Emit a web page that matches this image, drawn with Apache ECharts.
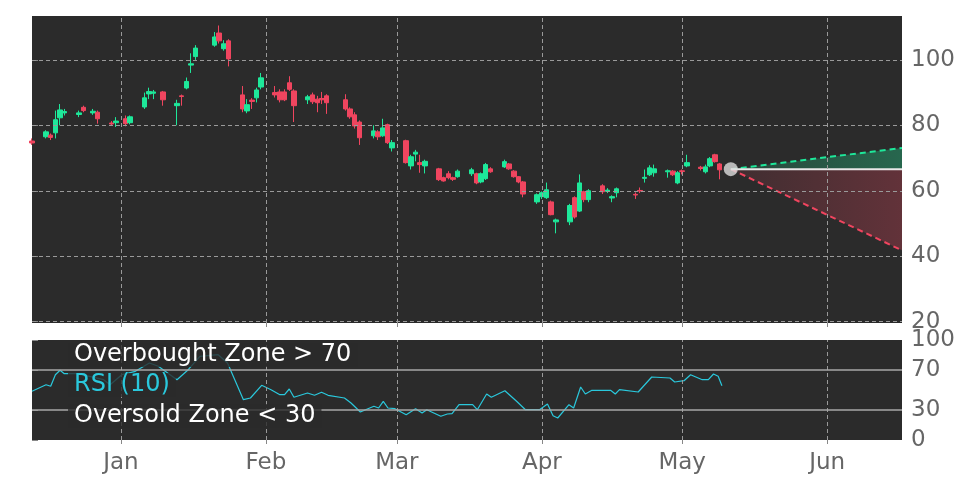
<!DOCTYPE html>
<html><head><meta charset="utf-8">
<script src="https://cdn.jsdelivr.net/npm/echarts@6/dist/echarts.min.js"></script>
<style>html,body{margin:0;background:#fff}#c{width:972px;height:486px}</style>
</head><body><div id="c"></div>
<script>
// x values are days since Dec 13
const monthDays = [19, 50, 78, 109, 139, 170];
const monthLabels = ['Jan', 'Feb', 'Mar', 'Apr', 'May', 'Jun'];
const priceTicks = [20, 40, 60, 80, 100];
const rsiTicks = [0, 30, 70, 100];
const candleDay = [0,3,4,5,6,7,10,11,13,14,17,18,20,21,24,25,26,28,31,32,33,34,35,39,40,41,42,45,46,47,48,49,52,53,54,55,56,59,60,61,62,63,67,68,69,70,73,74,75,76,77,80,81,82,83,84,87,88,89,90,91,94,95,96,97,98,101,102,103,104,105,108,109,110,111,112,115,116,117,118,119,122,123,124,125,129,130,131,132,133,136,137,138,139,140,143,144,145,146,147];
const opens  = [75.2,76.5,77,77.7,82.3,83.8,83.3,85.5,83.8,84,80.7,80.8,82,80.8,85.6,89.6,89.8,90.2,86,89,91.4,98.4,101,104.5,108.2,103.4,105.8,89.3,84.4,87.7,88.4,91.7,90,90.2,90.2,93,90.5,87.8,89.3,88,88.2,89,87.8,85,83.2,81,76.8,78,76.8,80.2,73.1,75.3,67.6,71.2,68.6,67.6,66.7,64,65.2,64,64.3,65.2,65.2,62.7,63.7,66.7,67.3,68.2,66,64.3,62.7,56.6,58.2,57.9,56.6,50.5,50.5,57.9,53.8,59.7,57.3,61.5,59.8,57.8,59.4,58.9,60.1,63.8,64.9,65.5,65.8,66,62.4,66.1,67.6,67.2,65.8,67.6,71,68.2];
const closes = [74.6,78,76.3,81.7,84.7,84.2,83.8,84.5,84.3,82,80.4,81.3,80.5,82.6,88.4,90.3,90.2,87.8,86.7,88.8,93.4,98.8,103.6,107,105.8,104.9,100.3,85,86.3,87.3,90.8,94.5,89.3,87.8,87.8,91,86,88.7,87.2,86.9,87.8,86.9,85,82.6,79.8,76.2,78.3,76.5,79.2,74.7,74.7,68.6,70.4,71.8,68,69,63.4,63,64,63.5,66,66.4,62.4,65.2,68,65.8,68.9,66.7,64.3,62.7,59,58.8,59.4,60.3,52.7,51.1,55.5,52,62.4,57.3,60,59.7,60.2,58.2,60.6,58.7,59.9,64.1,67,66.7,66.1,64.9,65.5,65.9,68.6,66.8,67.3,69.8,68.9,66.4];
const lows   = [74,76,75.5,76,80,83,82.5,84,83.2,80.5,79.8,79.5,79.7,80.3,85,88,88,86,80,86,91,96,100,104,105,102.8,98,84,83.7,85,87,91,88.5,87,87.4,90.5,81,86.5,86.5,84,86.5,83.5,84.5,82,79,74,76,75.5,76.5,74.3,72,68.3,66.5,69,65.5,65.3,63,62.8,63.5,63,64,64.5,62,62.3,63.3,65.5,67,66.4,64,62.3,58,56,57.5,57.5,52.5,47,49.5,51.5,53.5,56.5,56.5,59,59.3,56.5,58,57.5,59.3,62.5,64.5,64.3,64,64.5,62,65,67.2,66.2,65.3,67.2,68.6,63.5];
const highs  = [76,78.5,77.5,84.5,86.5,85,84.5,86,85,84.5,81.3,82.5,83,83,90,91.5,90.8,90.5,87.8,89.4,94.6,102,104.5,108.5,110.5,106,106.3,92,88,88.3,91.5,96,92,91,91,95,91,89.3,90,89,90.2,89.5,89.5,85.5,84,81.5,80,78.5,82,80.5,75.5,75.6,71,72.5,71,69.5,67,64.3,66,64.3,66.5,67,65.5,65.6,68.5,67.2,69.5,68.5,66.3,64.5,63,59.2,59.8,62.5,57,51.5,56,58.3,65,60,60.5,62,60.8,58.6,61,59.5,61,66.5,67.8,68,66.5,66.3,66,66.5,71,67.6,68,70.3,71.3,68.5];
const rsiDay = [0,1.5,3,4,5,6,6.9,9.4,12.3,15.3,16.7,19.2,22.1,25.1,27,31,33.4,35.9,39.8,41.8,45.2,46.7,49.1,51.1,53,54,55,56,58.9,60.4,61.9,63.3,66.8,68.2,70.2,71.7,73.1,74.1,75.1,76.1,77.6,80,82,83.4,84.4,87.4,88.8,89.8,91.3,94.2,95.2,97.2,98.2,101.1,103.6,105.5,108.5,110.2,111.4,112.4,114.8,115.8,117.3,118.3,119.7,123.7,124.7,125.6,129.6,132.5,136.4,137.4,139.4,140.8,143.3,144.6,145.7,146.7,147.5];
const rsiVal = [48.7,52,55.3,53.7,65.3,69.7,66.3,66.3,63.7,60.3,55.3,65.3,68.7,77,73.7,60.3,70.3,83.7,85.3,77,40.3,42,54.7,50.3,45.3,45.3,51,42.7,47,44.7,47.7,44.7,42,37,28,31,33.7,32,38.7,32,31.3,25.3,31.3,27,30.3,23.7,26,26.3,35.3,35.3,30.3,46,42.7,49.3,38.7,30.3,30.3,36,24.3,22,35.3,32,53,46,49.7,49.7,46,50.3,48,63,62,58,59.3,65.3,60.3,60.3,66,63.7,54.3];
const lastDay = 149.4, lastPrice = 66.6, endDay = 186, upTarget = 73.1, downTarget = 41.8;

const GREEN = '#1ee89a', RED = '#f0455f', BG = '#2b2b2b', LBL = '#666';
const candles = candleDay.map((d, i) => [d, opens[i], closes[i], lows[i], highs[i]]);
const rsi = rsiDay.map((d, i) => [d, rsiVal[i]]);
const vLines = monthDays.map(d => ({ xAxis: d }));
const hLines = priceTicks.map(v => ({ yAxis: v }));
const dash = { color: '#9a9a9a', type: [4, 3], width: 1 };
const FONT = 'DejaVu Sans';

const chart = echarts.init(document.getElementById('c'));
const xBase = (gi, showLabels) => ({
  type: 'value', gridIndex: gi, min: 0, max: endDay,
  splitLine: { show: false },
  axisLine: { show: false },
  axisTick: { show: true, customValues: monthDays, length: 4, lineStyle: { color: '#888' } },
  axisLabel: showLabels ? { show: true, customValues: monthDays, color: LBL, fontSize: 23, margin: 12,
    fontFamily: FONT, formatter: v => monthLabels[monthDays.indexOf(v)] || '' } : { show: false }
});
chart.setOption({
  animation: false,
  backgroundColor: '#fff',
  grid: [
    { left: 32, right: 70, top: 16, height: 307, backgroundColor: BG, show: true, borderWidth: 0 },
    { left: 32, right: 70, top: 340, height: 100, backgroundColor: BG, show: true, borderWidth: 0 }
  ],
  xAxis: [xBase(0, false), xBase(1, true)],
  yAxis: [
    { type: 'value', gridIndex: 0, position: 'right', min: 19.6, max: 113.4, splitLine: { show: false },
      axisLine: { show: false }, axisTick: { show: true, customValues: priceTicks, length: 6, lineStyle: { color: '#888' } },
      axisLabel: { customValues: priceTicks, color: LBL, fontSize: 23, margin: 9, fontFamily: FONT } },
    { type: 'value', gridIndex: 1, position: 'right', min: 0, max: 100, splitLine: { show: false },
      axisLine: { show: false }, axisTick: { show: true, customValues: rsiTicks, length: 6, lineStyle: { color: '#888' } },
      axisLabel: { customValues: rsiTicks, color: LBL, fontSize: 23, margin: 9, fontFamily: FONT } }
  ],
  series: [
    { type: 'line', xAxisIndex: 0, yAxisIndex: 0, data: [], silent: true,
      markLine: { symbol: 'none', silent: true, label: { show: false }, lineStyle: dash, data: vLines.concat(hLines) } },
    { type: 'line', xAxisIndex: 1, yAxisIndex: 1, data: [], silent: true,
      markLine: { symbol: 'none', silent: true, label: { show: false }, lineStyle: dash, data: vLines } },
    { type: 'line', data: [[lastDay, lastPrice], [endDay, upTarget]], symbol: 'none', lineStyle: { color: GREEN, width: 2, type: [6, 4] },
      areaStyle: { origin: lastPrice, color: new echarts.graphic.LinearGradient(0, 0, 1, 0, [{ offset: 0, color: 'rgba(30,232,154,0.2)' }, { offset: 1, color: 'rgba(30,232,154,0.45)' }]) } },
    { type: 'line', data: [[lastDay, lastPrice], [endDay, downTarget]], symbol: 'none', lineStyle: { color: RED, width: 2, type: [6, 4] },
      areaStyle: { origin: lastPrice, color: new echarts.graphic.LinearGradient(0, 0, 1, 0, [{ offset: 0, color: 'rgba(240,69,95,0.15)' }, { offset: 1, color: 'rgba(240,69,95,0.4)' }]) } },
    { type: 'line', data: [[lastDay, lastPrice], [endDay, lastPrice]], symbol: 'none', lineStyle: { color: '#e8e8e8', width: 2 } },
    { type: 'candlestick', xAxisIndex: 0, yAxisIndex: 0, data: candles, barWidth: 5,
      itemStyle: { color: GREEN, color0: RED, borderColor: GREEN, borderColor0: RED, borderWidth: 1 } },
    { type: 'scatter', data: [[lastDay, lastPrice]], symbolSize: 14, itemStyle: { color: '#dddddd' }, z: 10 },
    { type: 'line', xAxisIndex: 1, yAxisIndex: 1, data: rsi, symbol: 'none', lineStyle: { color: '#2ac8dc', width: 1.2 },
      markLine: { symbol: 'none', silent: true, label: { show: false }, lineStyle: { color: '#a8a8a8', type: 'solid', width: 1.5 },
        data: [{ yAxis: 70 }, { yAxis: 30 }] } }
  ],
  graphic: [
    { type: 'text', left: 68, top: 343, z: 100, style: { text: 'Overbought Zone > 70', fill: '#fff', font: '24px "DejaVu Sans"', backgroundColor: 'rgba(43,43,43,0.8)', padding: [0, 6] } },
    { type: 'text', left: 68, top: 373, z: 100, style: { text: 'RSI (10)', fill: '#2ac8dc', font: '24px "DejaVu Sans"', backgroundColor: 'rgba(43,43,43,0.8)', padding: [0, 6] } },
    { type: 'text', left: 68, top: 404, z: 100, style: { text: 'Oversold Zone < 30', fill: '#fff', font: '24px "DejaVu Sans"', backgroundColor: 'rgba(43,43,43,0.8)', padding: [0, 6] } }
  ]
});
</script></body></html>
